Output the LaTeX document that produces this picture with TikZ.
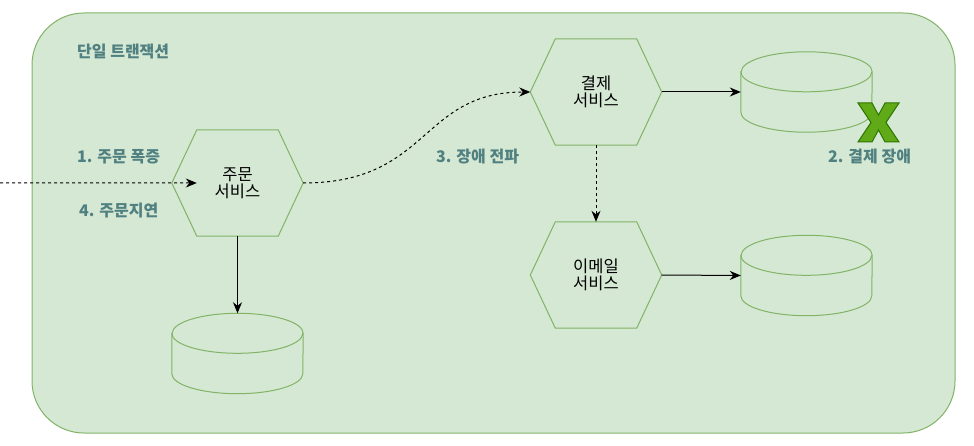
\documentclass[tikz,border=0pt]{standalone}
\usepackage{fontspec}
\setmainfont{Noto Sans CJK KR}
\usetikzlibrary{arrows.meta,calc}
\definecolor{boxfill}{HTML}{D5E8D4}
\definecolor{boxline}{HTML}{82B366}
\definecolor{lblcol}{RGB}{80,128,128}
\definecolor{xfill}{HTML}{60A917}
\definecolor{xline}{HTML}{2D7600}
\tikzset{
  hexbox/.style={draw=none,minimum width=131pt,minimum height=106pt,inner sep=0pt},
  dbbox/.style={draw=none,minimum width=131pt,minimum height=80pt,inner sep=0pt},
  hextext/.style={align=center,inner sep=0pt,font=\fontsize{16.5}{17.5}\selectfont},
  shapeline/.style={draw=boxline,line width=1pt,fill=boxfill},
  lbl/.style={text=lblcol,font=\bfseries\fontsize{16}{18}\selectfont,inner sep=0pt},
  conn/.style={draw=black,line width=1pt,-{Stealth[length=11pt,width=9pt,inset=3.5pt]}},
  dashconn/.style={conn,dash pattern=on 3pt off 3pt}
}
\begin{document}
\begin{tikzpicture}[x=1pt,y=-1pt]
\useasboundingbox (0,0) rectangle (974,446);
\fill[white] (0,0) rectangle (974,446);
% outer container
\draw[shapeline,rounded corners=52pt] (32,13) rectangle (955,433);
\node[lbl,anchor=west] (title) at (77,52) {단일 트랜잭션};

% hexagons
\node[hexbox] (order) at (237.5,183) {};
\node[hexbox] (pay) at (596,92) {};
\node[hexbox] (mail) at (596,275) {};
\foreach \n in {order,pay,mail}{
  \draw[shapeline] (\n.west) -- ($(\n.north west)+(25,0)$) -- ($(\n.north east)+(-25,0)$)
    -- (\n.east) -- ($(\n.south east)+(-25,0)$) -- ($(\n.south west)+(25,0)$) -- cycle;
}
\node[hextext] (ordert) at (order.center) {주문\\서비스};
\node[hextext] (payt) at (pay.center) {결제\\서비스};
\node[hextext] (mailt) at (mail.center) {이메일\\서비스};

% cylinders
\node[dbbox] (paydb) at (806.5,92) {};
\node[dbbox] (maildb) at (806.5,275.5) {};
\node[dbbox] (orderdb) at (237.5,353.5) {};
\foreach \n in {paydb,maildb,orderdb}{
  \draw[shapeline] ($(\n.north west)+(0,20)$) -- ($(\n.south west)+(0,-20)$)
    arc[start angle=180,end angle=360,x radius=65.5pt,y radius=20pt]
    -- ($(\n.north east)+(0,20)$)
    arc[start angle=0,end angle=180,x radius=65.5pt,y radius=20pt] -- cycle;
  \draw[draw=boxline,line width=1pt] ($(\n.north west)+(0,20)$)
    arc[start angle=180,end angle=360,x radius=65.5pt,y radius=20pt];
}

% failure mark
\coordinate (xo) at (858,103);
\draw[fill=xfill,draw=xline,line width=1pt,line join=miter]
  ($(xo)+(0,0)$) -- ($(xo)+(14,0)$) -- ($(xo)+(20.5,12)$) -- ($(xo)+(27,0)$) -- ($(xo)+(41,0)$)
  -- ($(xo)+(28,19.5)$) -- ($(xo)+(41,39)$) -- ($(xo)+(27,39)$) -- ($(xo)+(20.5,27)$)
  -- ($(xo)+(14,39)$) -- ($(xo)+(0,39)$) -- ($(xo)+(13,19.5)$) -- cycle;

% labels
\node[lbl,anchor=west] (l1) at (77,157) {1. 주문 폭증};
\node[lbl,anchor=west] (l4) at (79,211) {4. 주문지연};
\node[lbl,anchor=west] (l3) at (436,157) {3. 장애 전파};
\node[lbl,anchor=west] (l2) at (828,157) {2. 결제 장애};

% connectors
\coordinate (src) at (0,183);
\coordinate (orderin) at ($(order.north west)!0.5!(order.south west)+(25,0)$);
\draw[dashconn] (src) -- (orderin);
\draw[dashconn] (order.east) .. controls (430,183) and (420,92) .. (pay.west);
\draw[conn] (pay.east) -- (paydb.west);
\draw[dashconn] (pay.south) -- (mail.north);
\draw[conn] (mail.east) -- (maildb.west);
\draw[conn] (order.south) -- (orderdb.north);
\end{tikzpicture}
\end{document}
